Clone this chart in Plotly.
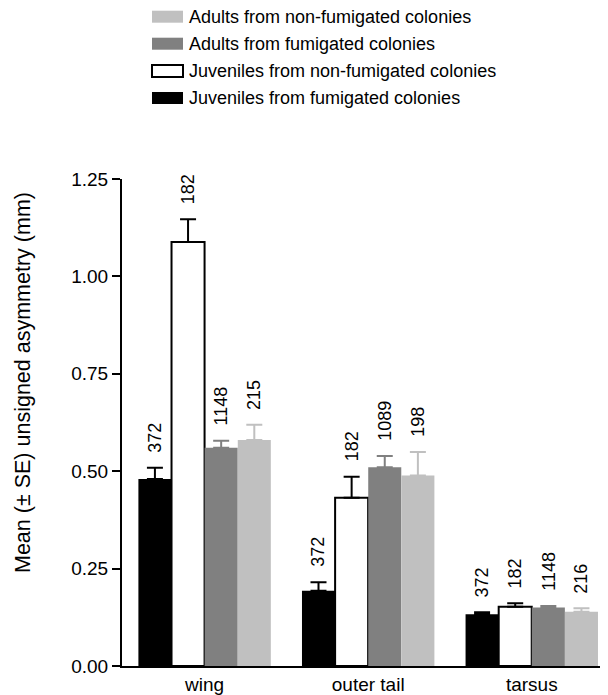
import plotly.graph_objects as go

categories = ["wing", "outer tail", "tarsus"]
series_names = [
    "Juveniles from fumigated colonies",
    "Juveniles from non-fumigated colonies",
    "Adults from fumigated colonies",
    "Adults from non-fumigated colonies",
]
means = [
    [0.480, 0.193, 0.133],
    [1.088, 0.432, 0.152],
    [0.560, 0.510, 0.150],
    [0.580, 0.489, 0.139],
]
ses = [
    [0.029, 0.022, 0.005],
    [0.059, 0.054, 0.009],
    [0.018, 0.029, 0.004],
    [0.039, 0.060, 0.009],
]
sample_sizes = [
    ["372", "372", "372"],
    ["182", "182", "182"],
    ["1148", "1089", "1148"],
    ["215", "198", "216"],
]

fills = ["#000000", "#ffffff", "#808080", "#c0c0c0"]
edges = ["#000000", "#000000", "#808080", "#c0c0c0"]
edge_w = [0, 2, 0, 0]
err_colors = ["#000000", "#000000", "#808080", "#c0c0c0"]

FONT = "Liberation Sans, Arial, Helvetica, sans-serif"
x_idx = list(range(len(categories)))
bar_w = 0.202

fig = go.Figure()
for k in range(4):
    fig.add_trace(go.Bar(
        x=x_idx, y=means[k], name=series_names[k],
        width=bar_w,
        marker=dict(color=fills[k], line=dict(color=edges[k], width=edge_w[k])),
        error_y=dict(type="data", symmetric=False, array=ses[k],
                     arrayminus=[0] * len(categories),
                     color=err_colors[k], thickness=2, width=8),
        showlegend=False,
    ))

annotations = []
for k in range(4):
    off = (k - 1.5) * bar_w
    for i in range(len(categories)):
        annotations.append(dict(
            x=x_idx[i] + off, y=means[k][i] + ses[k][i], xref="x", yref="y",
            text=sample_sizes[k][i], textangle=-90, showarrow=False,
            xanchor="center", yanchor="bottom", yshift=13,
            font=dict(family=FONT, size=18, color="#000000"),
        ))

# custom legend (top row = last series)
shapes = []
row_px = [16.7, 43.7, 71.0, 98.0]
order = [3, 2, 1, 0]
plot_top, plot_bot = 179, 666
h = plot_bot - plot_top
def py(p):
    return (plot_bot - p) / h
def px(p):
    return (p - 122) / 486
for r, k in enumerate(order):
    c = row_px[r]
    shapes.append(dict(
        type="rect", xref="paper", yref="paper",
        x0=px(152), x1=px(183), y0=py(c + 6), y1=py(c - 6),
        fillcolor=fills[k],
        line=dict(color="#000000" if k == 1 else fills[k], width=2 if k == 1 else 0),
    ))
    annotations.append(dict(
        x=px(187), y=py(c), xref="paper", yref="paper", text=series_names[k],
        showarrow=False, xanchor="left", yanchor="middle",
        font=dict(family=FONT, size=18, color="#000000"),
    ))

annotations.append(dict(
    x=px(23), y=py(383), xref="paper", yref="paper",
    text="Mean (± SE) unsigned asymmetry (mm)", textangle=-90,
    showarrow=False, xanchor="center", yanchor="middle",
    font=dict(family=FONT, size=21.5, color="#000000"),
))

# page body has an 8px margin: figure spans window px 8..608, 8..695
fig.update_layout(
    width=600, height=687,
    margin=dict(l=114, r=0, t=171, b=29),
    paper_bgcolor="#ffffff", plot_bgcolor="#ffffff",
    barmode="group", bargap=0.19, bargroupgap=0,
    showlegend=False,
    shapes=shapes, annotations=annotations,
    font=dict(family=FONT, color="#000000"),
)
fig.update_xaxes(
    range=[-0.505, 2.466], tickmode="array", tickvals=x_idx, ticktext=categories,
    showline=True, linecolor="#000000", linewidth=2, ticks="",
    showgrid=False, zeroline=False, tickfont=dict(size=19, family=FONT),
)
fig.update_yaxes(
    range=[0, 1.25], tickvals=[0, 0.25, 0.5, 0.75, 1.0, 1.25],
    ticktext=["0.00", "0.25", "0.50", "0.75", "1.00", "1.25"],
    showline=True, linecolor="#000000", linewidth=2,
    ticks="outside", ticklen=8, tickwidth=2, tickcolor="#000000",
    showgrid=False, zeroline=False, tickfont=dict(size=19, family=FONT),
)

fig.write_html("out.html")
